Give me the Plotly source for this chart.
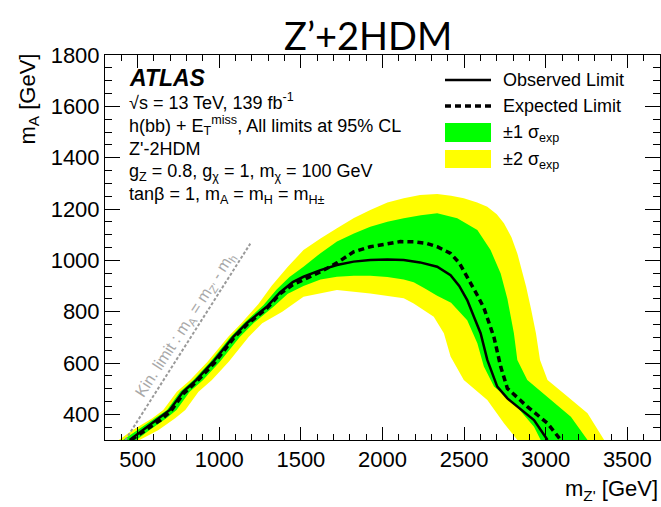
import plotly.graph_objects as go

# ---------------- data ----------------
obs_x = [451, 533, 635, 697, 778, 860, 963, 1086, 1168, 1291, 1372, 1450, 1516, 1620, 1721, 1823, 1925, 2030,
         2130, 2230, 2335, 2417, 2470, 2519, 2560, 2601, 2642, 2703, 2765, 2826, 2928, 3011]
obs_y = [300, 339, 385, 417, 488, 534, 605, 702, 755, 819, 875, 915, 936, 962, 982, 995, 1001, 1003,
         1001, 992, 975, 942, 900, 845, 780, 716, 612, 508, 462, 430, 378, 300]

exp_x = [460, 540, 640, 700, 780, 865, 970, 1090, 1170, 1295, 1372, 1450, 1516, 1620, 1721, 1823, 1925, 2028,
         2110, 2191, 2270, 2335, 2417, 2470, 2519, 2580, 2621, 2683, 2724, 2765, 2887, 3011, 3092]
exp_y = [300, 335, 378, 410, 480, 530, 600, 698, 750, 815, 870, 905, 923, 955, 990, 1033, 1053, 1066,
         1073, 1072, 1066, 1053, 1027, 990, 936, 865, 815, 700, 586, 501, 430, 365, 300]

# +-2 sigma band: outer (upper/right) edge and inner (lower/left) edge
y2_outer_x = [385, 470, 590, 657, 740, 822, 928, 1055, 1135, 1240, 1320, 1420, 1516, 1620, 1721, 1825, 1925,
              2030, 2130, 2230, 2335, 2420, 2498, 2580, 2642, 2700, 2744, 2790, 2826, 2855, 2880, 2910, 2940,
              2965, 3011, 3133, 3256, 3358]
y2_outer_y = [300, 339, 385, 417, 488, 534, 605, 702, 755, 830, 900, 975, 1040, 1085, 1125, 1165, 1196,
              1225, 1242, 1255, 1258, 1252, 1242, 1225, 1209, 1180, 1144, 1090, 1027, 960, 897, 810, 716,
              612, 534, 469, 404, 300]
y2_inner_x = [512, 628, 730, 792, 873, 955, 1058, 1181, 1263, 1386, 1516, 1721, 1925, 2130, 2191, 2314, 2376,
              2417, 2498, 2642, 2744, 2826]
y2_inner_y = [300, 339, 385, 417, 488, 534, 605, 702, 755, 800, 858, 884, 871, 852, 832, 780, 716,
              625, 534, 456, 365, 300]

# +-1 sigma band
y1_outer_x = [410, 500, 612, 680, 760, 842, 946, 1070, 1150, 1270, 1350, 1430, 1516, 1620, 1721, 1825, 1925,
              2030, 2130, 2235, 2335, 2458, 2581, 2662, 2724, 2765, 2805, 2826, 2887, 3011, 3154, 3256]
y1_outer_y = [300, 339, 385, 417, 488, 534, 605, 702, 755, 825, 885, 935, 975, 1028, 1073, 1105, 1131,
              1150, 1164, 1176, 1183, 1164, 1118, 1040, 949, 850, 716, 612, 534, 469, 391, 300]
y1_inner_x = [492, 574, 676, 738, 819, 901, 1004, 1127, 1209, 1332, 1420, 1516, 1620, 1721, 1825, 1925, 2030,
              2130, 2191, 2260, 2335, 2420, 2519, 2581, 2621, 2683, 2805, 2928, 2969]
y1_inner_y = [300, 339, 385, 417, 488, 534, 605, 702, 755, 819, 870, 900, 925, 936, 940, 940, 935,
              925, 915, 890, 862, 835, 767, 677, 586, 508, 443, 352, 300]

# kinematic limit m_A = m_Z' - m_h
m_h = 125
kin_x = [425, 1190]
kin_y = [v - m_h for v in kin_x]

x_ticks = [500, 1000, 1500, 2000, 2500, 3000, 3500]
y_ticks = [400, 600, 800, 1000, 1200, 1400, 1600, 1800]

# ---------------- figure ----------------
W, H = 661, 507
ML, MR, MT, MB = 105, 1, 55, 67
PW, PH = W - ML - MR, H - MT - MB


def px(xp):
    return (xp - ML) / PW


def py(yp):
    return (H - MB - yp) / PH


FONT = "Liberation Sans, Arial, Helvetica, sans-serif"

fig = go.Figure()

fig.add_trace(go.Scatter(x=y2_outer_x + y2_inner_x[::-1], y=y2_outer_y + y2_inner_y[::-1],
                         fill="toself", fillcolor="#ffff00", line=dict(width=0), mode="lines",
                         hoverinfo="skip"))
fig.add_trace(go.Scatter(x=y1_outer_x + y1_inner_x[::-1], y=y1_outer_y + y1_inner_y[::-1],
                         fill="toself", fillcolor="#00ff00", line=dict(width=0), mode="lines",
                         hoverinfo="skip"))
fig.add_trace(go.Scatter(x=kin_x, y=kin_y, mode="lines",
                         line=dict(color="#9a9a9a", width=2, dash="3px,2px")))
fig.add_trace(go.Scatter(x=exp_x, y=exp_y, mode="lines",
                         line=dict(color="black", width=3.5, dash="6px,4px")))
fig.add_trace(go.Scatter(x=obs_x, y=obs_y, mode="lines",
                         line=dict(color="black", width=2.5)))

axis_common = dict(showline=True, linecolor="black", linewidth=1, mirror="ticks",
                   ticks="inside", tickcolor="black", showgrid=False, zeroline=False,
                   tickfont=dict(family=FONT, size=22, color="black"))

fig.update_xaxes(range=[300, 3700], tickvals=x_ticks, ticklen=13, tickwidth=1,
                 minor=dict(dtick=100, tick0=0, ticklen=6, ticks="inside", tickcolor="black"),
                 **axis_common)
fig.update_yaxes(range=[300, 1800], tickvals=y_ticks, ticklen=15, tickwidth=1,
                 minor=dict(dtick=50, tick0=0, ticklen=7, ticks="inside", tickcolor="black"),
                 **axis_common)

ann = []
# title
ann.append(dict(text="Z’+2HDM", x=px(368), y=py(35), xref="paper", yref="paper",
                showarrow=False, xanchor="center", yanchor="middle",
                font=dict(family="Lato, Open Sans, sans-serif", size=38, color="black")))
# axis titles
ann.append(dict(text="m<sub>A</sub> [GeV]", x=px(28), y=py(52), xref="paper", yref="paper",
                showarrow=False, xanchor="center", yanchor="top", textangle=-90,
                font=dict(family=FONT, size=22, color="black")))
ann.append(dict(text="m<sub>Z'</sub> [GeV]", x=px(660), y=py(490), xref="paper", yref="paper",
                showarrow=False, xanchor="right", yanchor="middle",
                font=dict(family=FONT, size=22, color="black")))
# ATLAS block
ann.append(dict(text="<b><i>ATLAS</i></b>", x=px(127), y=py(78), xref="paper", yref="paper",
                showarrow=False, xanchor="left", yanchor="middle",
                font=dict(family=FONT, size=23, color="black")))
info_lines = [
    ("√s = 13 TeV, 139 fb<sup>-1</sup>", 101),
    ("h(bb) + E<sub>T</sub><sup>miss</sup>, All limits at 95% CL", 126),
    ("Z'-2HDM", 149),
    ("g<sub>Z</sub> = 0.8, g<sub>χ</sub> = 1, m<sub>χ</sub> = 100 GeV", 172),
    ("tanβ = 1, m<sub>A</sub> = m<sub>H</sub> = m<sub>H±</sub>", 195),
]
for t, yy in info_lines:
    ann.append(dict(text=t, x=px(127), y=py(yy), xref="paper", yref="paper",
                    showarrow=False, xanchor="left", yanchor="middle",
                    font=dict(family=FONT, size=18, color="black")))
# legend texts
leg = [("Observed Limit", 80), ("Expected Limit", 106), ("±1 σ<sub>exp</sub>", 133), ("±2 σ<sub>exp</sub>", 160)]
for t, yy in leg:
    ann.append(dict(text=t, x=px(501), y=py(yy), xref="paper", yref="paper",
                    showarrow=False, xanchor="left", yanchor="middle",
                    font=dict(family=FONT, size=18, color="black")))
# kin limit label (placed up-left of the kinematic line)
ann.append(dict(text="Kin. limit : m<sub>A</sub> = m<sub>Z'</sub> - m<sub>h</sub>",
                x=px(185), y=py(325), xref="paper", yref="paper", showarrow=False, textangle=-57,
                xanchor="center", yanchor="middle",
                font=dict(family=FONT, size=16, color="#a8a8a8")))

shapes = [
    dict(type="line", xref="paper", yref="paper", x0=px(445), x1=px(491), y0=py(80), y1=py(80),
         line=dict(color="black", width=2.5)),
    dict(type="line", xref="paper", yref="paper", x0=px(445), x1=px(491), y0=py(106), y1=py(106),
         line=dict(color="black", width=3.5, dash="6px,4px")),
    dict(type="rect", xref="paper", yref="paper", x0=px(445), x1=px(491), y0=py(142), y1=py(123),
         fillcolor="#00ff00", line=dict(width=0)),
    dict(type="rect", xref="paper", yref="paper", x0=px(445), x1=px(491), y0=py(168), y1=py(150),
         fillcolor="#ffff00", line=dict(width=0)),
]

fig.update_layout(width=W, height=H, margin=dict(l=ML, r=MR, t=MT, b=MB),
                  paper_bgcolor="white", plot_bgcolor="white", showlegend=False,
                  annotations=ann, shapes=shapes)

fig.write_html("out.html")
